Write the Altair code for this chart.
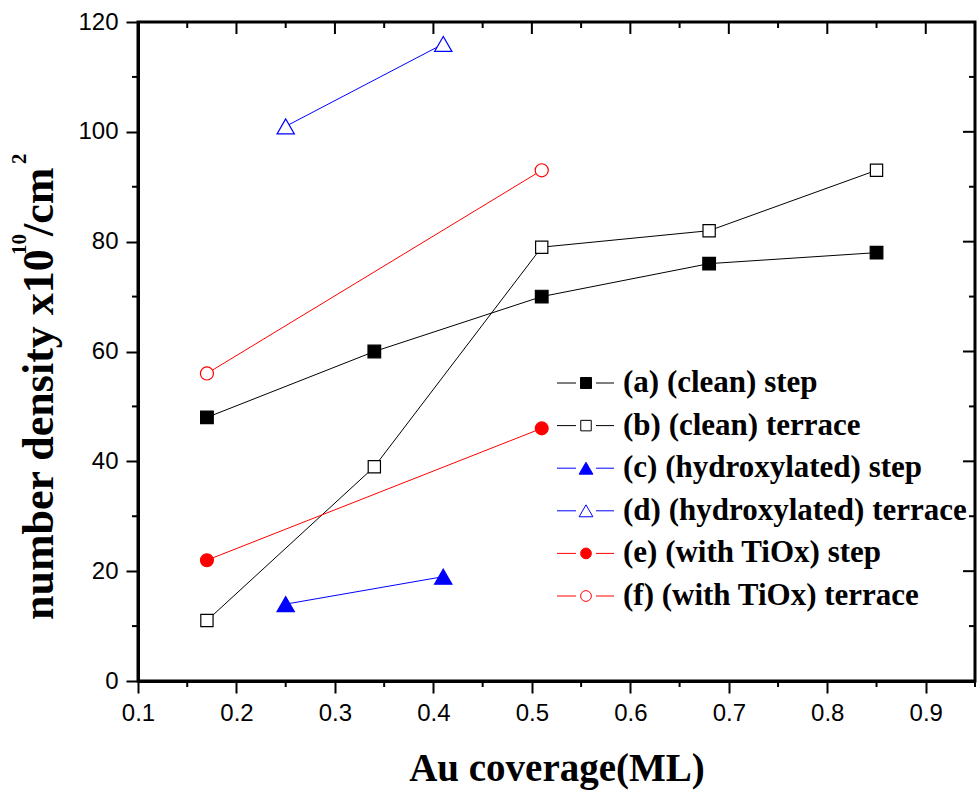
import altair as alt
import pandas as pd

# ---------------- data ----------------
series = ["(a) (clean) step", "(b) (clean) terrace", "(c) (hydroxylated) step",
          "(d) (hydroxylated) terrace", "(e) (with TiOx) step", "(f) (with TiOx) terrace"]

a_x = [0.17, 0.34, 0.51, 0.68, 0.85]
a_y = [48, 60, 70, 76, 78]
b_x = [0.17, 0.34, 0.51, 0.68, 0.85]
b_y = [11, 39, 79, 82, 93]
c_x = [0.25, 0.41]
c_y = [14, 19]
d_x = [0.25, 0.41]
d_y = [101, 116]
e_x = [0.17, 0.51]
e_y = [22, 46]
f_x = [0.17, 0.51]
f_y = [56, 93]

line_colors = ["black", "black", "blue", "blue", "red", "red"]
fill_colors = ["black", "white", "blue", "white", "red", "white"]
shapes = ["square", "square", "triangle-up", "triangle-up", "circle", "circle"]
sizes = [160, 150, 300, 300, 165, 170]
legend_sizes = [120, 110, 190, 190, 115, 115]

x_major = [0.1, 0.2, 0.3, 0.4, 0.5, 0.6, 0.7, 0.8, 0.9]
x_minor = [0.15, 0.25, 0.35, 0.45, 0.55, 0.65, 0.75, 0.85, 0.95]
y_major = [0, 20, 40, 60, 80, 100, 120]
y_minor = [10, 30, 50, 70, 90, 110]

# y title pieces (text, is superscript)
ytitle_parts = ["number density x10", "10", "/cm", "2"]
ytitle_sup = [False, True, False, True]

rows = []
for name, xs, ys in zip(series, [a_x, b_x, c_x, d_x, e_x, f_x], [a_y, b_y, c_y, d_y, e_y, f_y]):
    for xv, yv in zip(xs, ys):
        rows.append({"series": name, "x": xv, "y": yv})
df = pd.DataFrame(rows)

legend_df = pd.DataFrame({"series": series, "row": list(range(len(series)))})

W, H = 837, 659

xscale = alt.Scale(domain=[0.1, 0.95], nice=False, zero=False)
yscale = alt.Scale(domain=[0, 120], nice=False, zero=False)
stroke_scale = alt.Scale(domain=series, range=line_colors)
fill_scale = alt.Scale(domain=series, range=fill_colors)
shape_scale = alt.Scale(domain=series, range=shapes)

x_axis = alt.Axis(values=x_major, format=".1f", tickSize=12, tickWidth=2, tickColor="black",
                  domainColor="black", domainWidth=3, grid=False,
                  labelFont="Liberation Sans", labelFontSize=24, labelColor="black",
                  labelPadding=8, labelFlush=False,
                  title="Au coverage(ML)", titleFont="Liberation Serif", titleFontSize=39,
                  titleFontWeight="bold", titleColor="black", titlePadding=24)
y_axis = alt.Axis(values=y_major, format="d", tickSize=12, tickWidth=2, tickColor="black",
                  domainColor="black", domainWidth=3, grid=False,
                  labelFont="Liberation Sans", labelFontSize=24, labelColor="black",
                  labelPadding=8, labelFlush=False, title=None)

base = alt.Chart(df)
lines = base.mark_line(strokeWidth=1).encode(
    x=alt.X("x:Q", scale=xscale, axis=x_axis),
    y=alt.Y("y:Q", scale=yscale, axis=y_axis),
    stroke=alt.Stroke("series:N", scale=stroke_scale, legend=None),
    detail="series:N",
)
points = base.mark_point(opacity=1, fillOpacity=1, strokeWidth=1.2).encode(
    x=alt.X("x:Q", scale=xscale),
    y=alt.Y("y:Q", scale=yscale),
    stroke=alt.Stroke("series:N", scale=stroke_scale, legend=None),
    fill=alt.Fill("series:N", scale=fill_scale, legend=None),
    shape=alt.Shape("series:N", scale=shape_scale, legend=None),
    size=alt.Size("series:N", scale=alt.Scale(type="ordinal", domain=series, range=sizes), legend=None),
)

def xticks(vals, y0, y1):
    return alt.Chart(pd.DataFrame({"v": vals})).mark_rule(strokeWidth=2, color="black").encode(
        x=alt.X("v:Q", scale=xscale), y=alt.value(y0), y2=alt.value(y1))

def yticks(vals, x0, x1):
    return alt.Chart(pd.DataFrame({"v": vals})).mark_rule(strokeWidth=2, color="black").encode(
        y=alt.Y("v:Q", scale=yscale), x=alt.value(x0), x2=alt.value(x1))

tick_layers = [
    xticks(x_minor, H, H + 6),          # bottom minor (outward)
    yticks(y_minor, 0, -6),             # left minor (outward)
    xticks(x_major[1:], 0, 12),         # top major (inward)
    xticks(x_minor[:-1], 0, 6),         # top minor (inward)
    yticks(y_major[1:-1], W, W - 12),   # right major (inward)
    yticks(y_minor, W, W - 6),          # right minor (inward)
]

# y-axis title built from pieces so the exponents are real superscripts
ytitle_pos = [598, 233, 214, 142]
ytitle_layers = []
for txt, sup, py in zip(ytitle_parts, ytitle_sup, ytitle_pos):
    ytitle_layers.append(
        alt.Chart(pd.DataFrame({"t": [txt]})).mark_text(
            angle=270, align="left", baseline="alphabetic", font="Liberation Serif",
            fontWeight="bold", fontSize=21 if sup else 44, color="black",
        ).encode(text="t:N", x=alt.value(-112 if sup else -85), y=alt.value(py))
    )

main = alt.layer(lines, points, *tick_layers, *ytitle_layers)

# ---------------- legend ----------------
lrow = alt.Y("row:Q", scale=alt.Scale(domain=[0, 5], range=[361, 574]), axis=None)
lbase = alt.Chart(legend_df)
leg_line_l = lbase.mark_rule(strokeWidth=1).encode(
    y=lrow, x=alt.value(419), x2=alt.value(438),
    stroke=alt.Stroke("series:N", scale=stroke_scale, legend=None),
)
leg_line_r = lbase.mark_rule(strokeWidth=1).encode(
    y=lrow, x=alt.value(458), x2=alt.value(476),
    stroke=alt.Stroke("series:N", scale=stroke_scale, legend=None),
)
leg_pt = lbase.mark_point(opacity=1, fillOpacity=1, strokeWidth=1).encode(
    y=lrow, x=alt.value(448),
    stroke=alt.Stroke("series:N", scale=stroke_scale, legend=None),
    fill=alt.Fill("series:N", scale=fill_scale, legend=None),
    shape=alt.Shape("series:N", scale=shape_scale, legend=None),
    size=alt.Size("series:N", scale=alt.Scale(type="ordinal", domain=series, range=legend_sizes), legend=None),
)
leg_text = lbase.mark_text(align="left", baseline="middle", font="Liberation Serif",
                           fontSize=31, fontWeight="bold", color="black").encode(
    y=lrow, x=alt.value(485), text="series:N",
)
legend = alt.layer(leg_line_l, leg_line_r, leg_pt, leg_text).resolve_scale(size="independent")

chart = alt.layer(main, legend).resolve_scale(y="independent", size="independent").properties(
    width=W, height=H,
    autosize=alt.AutoSizeParams(type="none"),
    padding={"left": 138, "top": 22, "right": 4, "bottom": 112},
    background="white",
).configure_view(stroke="black", strokeWidth=3)

chart.save("out.html", embed_options={"renderer": "svg", "actions": False})
